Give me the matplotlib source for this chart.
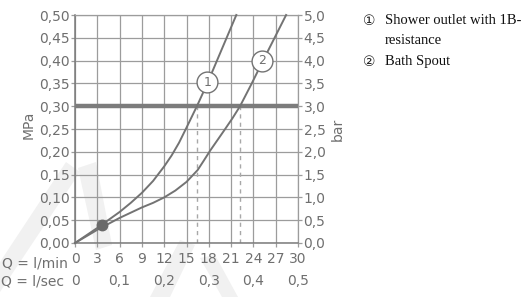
import matplotlib
matplotlib.use('Agg')
import matplotlib.pyplot as plt
from matplotlib.patches import Polygon

# durchfluss l/min und druck MPa
flow_ticks = [0, 3, 6, 9, 12, 15, 18, 21, 24, 27, 30]
lsec_ticks = [0, 0.1, 0.2, 0.3, 0.4, 0.5]
mpa_ticks = [0, 0.05, 0.10, 0.15, 0.20, 0.25, 0.30, 0.35, 0.40, 0.45, 0.50]
bar_ticks = [0, 0.5, 1.0, 1.5, 2.0, 2.5, 3.0, 3.5, 4.0, 4.5, 5.0]

shower_q = [0, 3, 3.6, 6, 7.5, 9, 10.5, 12, 13, 14, 15, 16.4, 17.8, 19.1, 20.4, 21.7]
shower_p = [0, 0.033, 0.040, 0.068, 0.088, 0.110, 0.136, 0.168, 0.192, 0.220, 0.253, 0.30, 0.35, 0.40, 0.45, 0.50]
bath_q = [0, 3, 6, 9, 10.5, 12, 13.5, 15, 16.5, 17.3, 18.2, 20.2, 21.2, 22.2, 23.75, 25.3, 26.85, 28.4]
bath_p = [0, 0.029, 0.055, 0.078, 0.088, 0.100, 0.115, 0.134, 0.160, 0.180, 0.203, 0.250, 0.274, 0.30, 0.349, 0.40, 0.45, 0.50]

limit_p = 0.30
limit_q = [16.4, 22.2]
dot = (3.6, 0.040)
labels = ['1', '2']
label_pos = [(17.8, 0.353), (25.2, 0.40)]
legend = ['Shower outlet with 1B-\nresistance', 'Bath Spout']
circled = ['\u2460', '\u2461']

txt = '#6f6f6f'
line = '#737373'
gridc = '#9c9c9c'

fig = plt.figure(figsize=(5.27, 2.97), dpi=100)
W, H = 527, 297

# wasserzeichen
for pts in [
    [(0, 262), (0, 292), (80, 172), (66, 162)],
    [(78, 168), (96, 162), (112, 245), (96, 250)],
    [(150, 297), (170, 297), (195, 245), (180, 240)],
    [(200, 258), (215, 255), (238, 297), (222, 297)],
]:
    fig.add_artist(Polygon([(x / W, 1 - y / H) for x, y in pts], closed=True,
                           transform=fig.transFigure, fc='#f1f1f1', ec='none', zorder=0))

ax = fig.add_axes([75 / W, 1 - 243 / H, 223 / W, 228 / H])
ax.patch.set_alpha(0)
ax.set_xlim(0, 30)
ax.set_ylim(0, 0.5)

ax.set_xticks(flow_ticks)
ax.set_xticklabels([str(v) for v in flow_ticks])
ax.set_yticks(mpa_ticks)
ax.set_yticklabels([f'{v:.2f}'.replace('.', ',') for v in mpa_ticks])
ax.grid(True, color=gridc, lw=0.9)
ax.set_axisbelow(True)
ax.tick_params(axis='both', colors=gridc, labelcolor=txt, labelsize=10, length=3, width=0.9, pad=1)
ax.tick_params(axis='x', pad=3.5)
for s in ['top', 'right']:
    ax.spines[s].set_color(gridc)
    ax.spines[s].set_linewidth(0.9)
for s in ['left', 'bottom']:
    ax.spines[s].set_color('#7a7a7a')
    ax.spines[s].set_linewidth(1.1)

ax.set_ylabel('MPa', color=txt, fontsize=10)
ax.yaxis.set_label_coords(-0.175, 0.52)

ax2 = ax.twinx()
ax2.set_ylim(0, 5)
ax2.set_yticks(bar_ticks)
ax2.set_yticklabels([f'{v:.1f}'.replace('.', ',') for v in bar_ticks])
ax2.tick_params(colors=gridc, labelcolor=txt, labelsize=10, length=3, width=0.9, pad=1)
for s in ax2.spines.values():
    s.set_visible(False)
ax2.set_ylabel('bar', color=txt, fontsize=10)
ax2.yaxis.set_label_coords(1.145, 0.50)

sec = ax.secondary_xaxis(-0.135, functions=(lambda q: q / 60, lambda s: s * 60))
sec.set_xticks(lsec_ticks)
sec.set_xticklabels(['0'] + [f'{v:.1f}'.replace('.', ',') for v in lsec_ticks[1:]])
sec.tick_params(length=0, labelcolor=txt, labelsize=10, pad=0)
sec.spines['bottom'].set_visible(False)

ax.text(-0.03, -0.092, 'Q = l/min', transform=ax.transAxes, ha='right', va='center',
        color=txt, fontsize=10)
ax.text(-0.05, -0.171, 'Q = l/sec', transform=ax.transAxes, ha='right', va='center',
        color=txt, fontsize=10)

# grenzlinie und kurven
ax.axhline(limit_p, color='#7c7c7c', lw=3.2, zorder=3)
for q in limit_q:
    ax.plot([q, q], [0, limit_p], color='#a8a8a8', lw=1, ls=(0, (3, 3)), zorder=2)
ax.plot(shower_q, shower_p, color=line, lw=1.4, zorder=4, clip_on=False)
ax.plot(bath_q, bath_p, color=line, lw=1.4, zorder=4, clip_on=False)
ax.plot(*dot, 'o', ms=7.5, color='#6a6a6a', zorder=5)
for lab, (q, p) in zip(labels, label_pos):
    ax.plot(q, p, 'o', ms=15, mfc='white', mec=line, mew=1, zorder=6)
    ax.text(q, p, lab, ha='center', va='center', color=txt, fontsize=9, zorder=7)

# legende rechts
serif = ['Liberation Serif', 'DejaVu Sans']
fig.text(369 / W, 1 - 21 / H, circled[0], family=['DejaVu Sans'], fontsize=10, ha='center', va='center', color='#222222')
fig.text(385 / W, 1 - 21 / H, legend[0].split('\n')[0], family=serif, fontsize=10.5,
         ha='left', va='center', color='#111111')
fig.text(385 / W, 1 - 40 / H, legend[0].split('\n')[1], family=serif, fontsize=10.5,
         ha='left', va='center', color='#111111')
fig.text(369 / W, 1 - 62 / H, circled[1], family=['DejaVu Sans'], fontsize=10, ha='center', va='center', color='#222222')
fig.text(385 / W, 1 - 62 / H, legend[1], family=serif, fontsize=10.5,
         ha='left', va='center', color='#111111')

fig.savefig('out.png', dpi=100)
